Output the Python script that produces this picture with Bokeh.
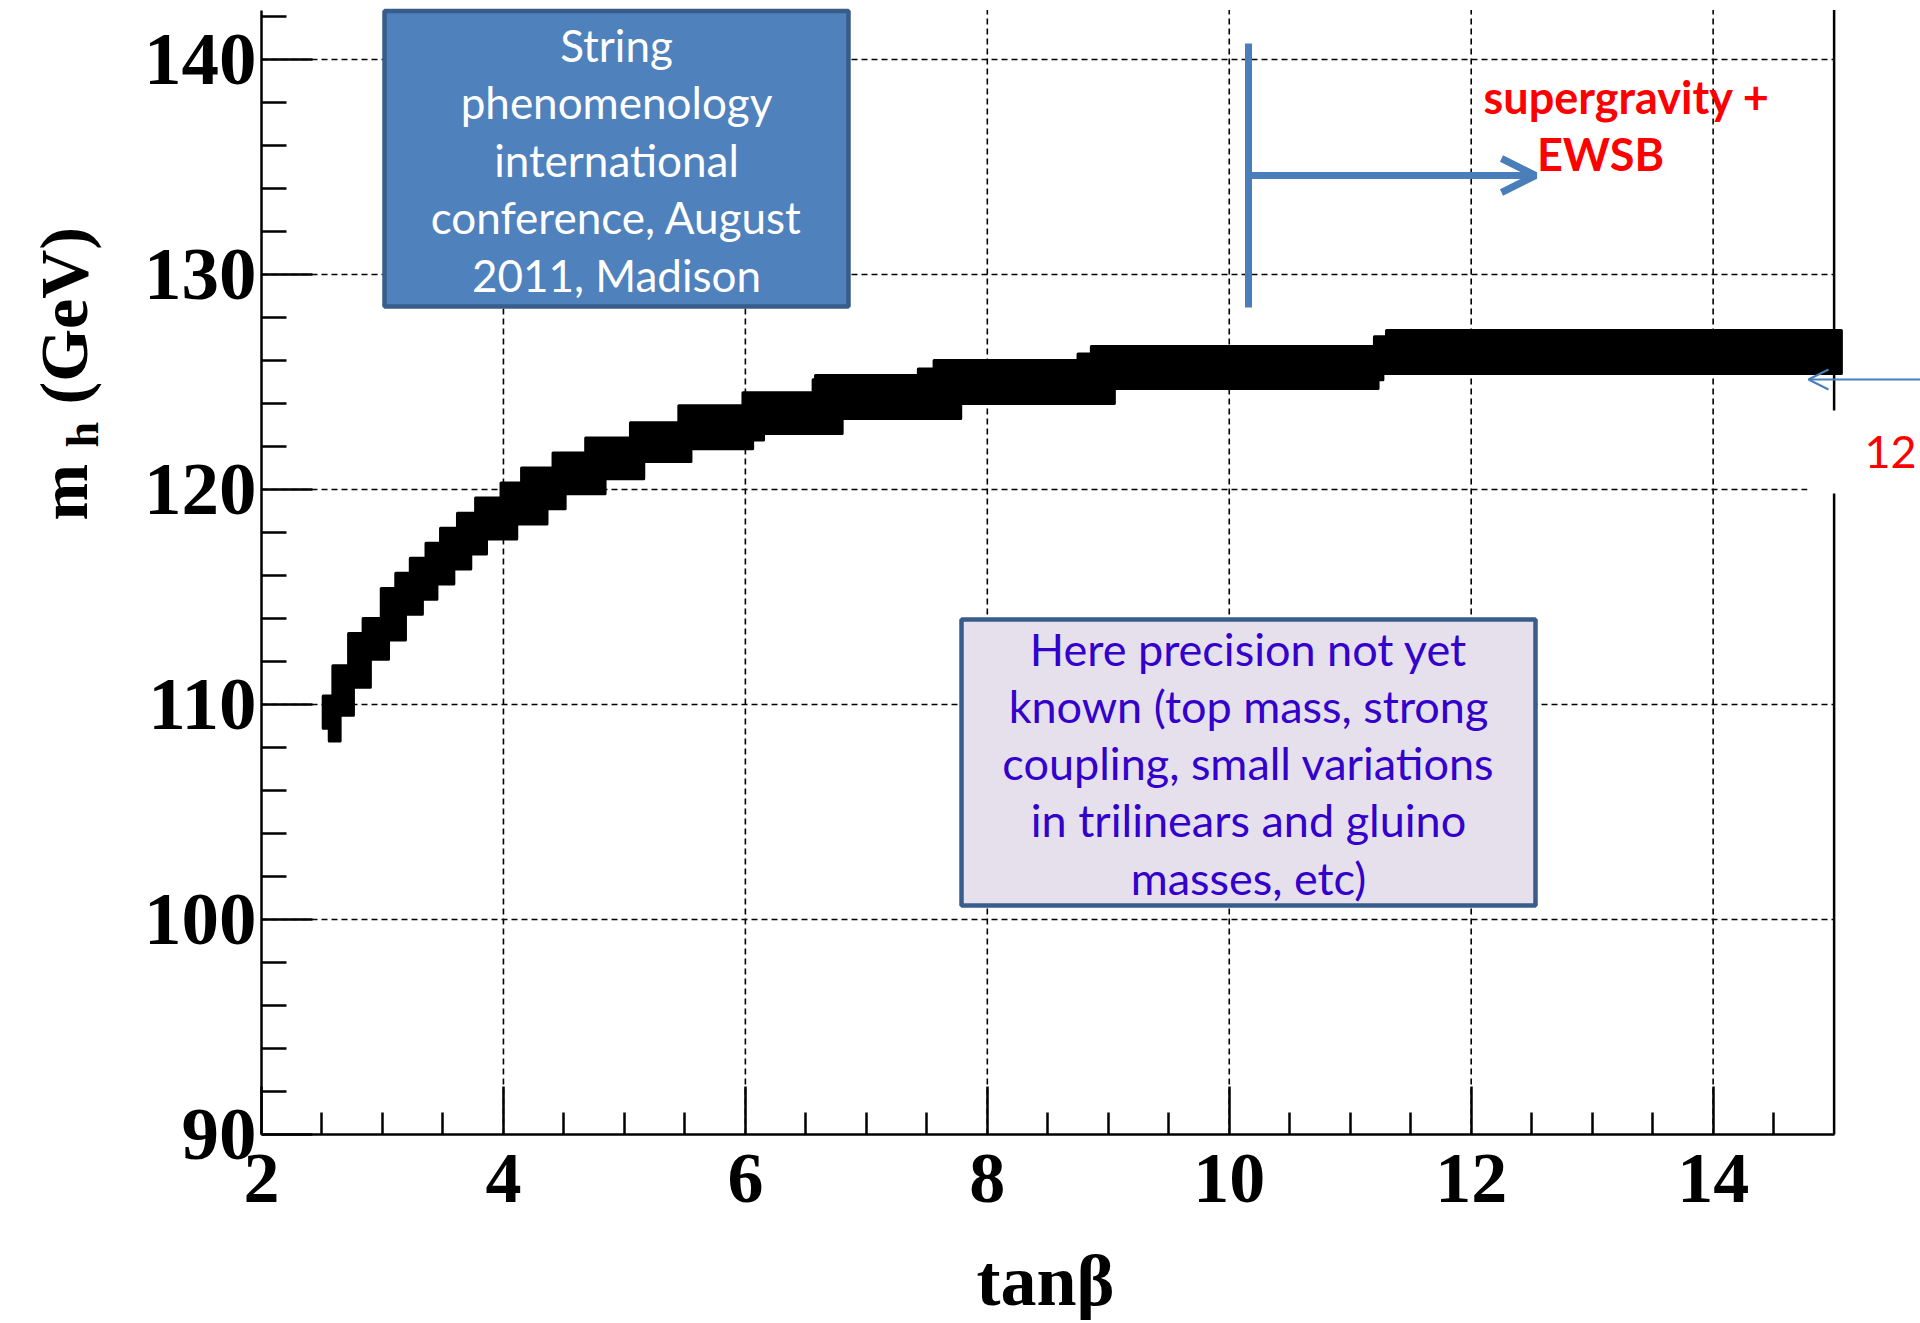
import math
from bokeh.plotting import figure
from bokeh.models import Range1d, FixedTicker, Label, Arrow, OpenHead, BoxAnnotation
from bokeh.embed import file_html
from bokeh.resources import INLINE

# ---------------- data ----------------
# upper edge of the scanned band: step start (tan beta) and level (m_h, GeV)
upper_tanb = [2.51, 2.59, 2.72, 2.84, 2.99, 3.11, 3.23, 3.36, 3.48, 3.62, 3.77, 3.98,
              4.15, 4.41, 4.68, 5.05, 5.45, 5.98, 6.56, 6.58, 7.43, 7.56, 8.75, 8.86,
              11.20, 11.30]
upper_mh = [110.4, 111.8, 113.3, 114.0, 115.4, 116.1, 116.8, 117.5, 118.2, 118.9, 119.6, 120.3,
            121.0, 121.7, 122.4, 123.1, 123.9, 124.5, 125.1, 125.3, 125.6, 126.0, 126.3, 126.65,
            127.1, 127.4]
# lower edge of the band
lower_tanb = [2.51, 2.56, 2.65, 2.76, 2.90, 3.05, 3.19, 3.33, 3.45, 3.59, 3.73, 3.86,
              4.11, 4.36, 4.51, 4.84, 5.16, 5.55, 6.06, 6.15, 6.80, 7.78, 9.05, 11.23, 11.27]
lower_mh = [108.9, 108.3, 109.5, 110.8, 112.1, 113.0, 114.2, 114.9, 115.6, 116.3, 117.0, 117.7,
            118.4, 119.1, 119.8, 120.5, 121.3, 121.9, 122.3, 122.6, 123.3, 124.0, 124.7, 125.1, 125.4]
band_end_tanb = 15.06

x_major = [2, 4, 6, 8, 10, 12, 14]
x_minor = [2.5, 3, 3.5, 4.5, 5, 5.5, 6.5, 7, 7.5, 8.5, 9, 9.5, 10.5, 11, 11.5, 12.5, 13, 13.5, 14.5]
y_major = [90, 100, 110, 120, 130, 140]
y_minor = [92, 94, 96, 98, 102, 104, 106, 108, 112, 114, 116, 118, 122, 124, 126, 128,
           132, 134, 136, 138, 142]

blue_box_lines = ["String", "phenomenology", "international", "conference, August", "2011, Madison"]
purple_box_lines = ["Here precision not yet", "known (top mass, strong",
                    "coupling, small variations", "in trilinears and gluino", "masses, etc)"]

# ---------------- geometry ----------------
W, H = 1920, 1323
X_MIN, X_MAX_AX = 2, 15
Y_MIN, Y_MAX_AX = 90, 142.3
PXX = 120.97   # px per tan beta unit
PXY = 21.5     # px per GeV
X0PX, Y0PX = 261, 1134   # canvas position of (2, 90)

def dx(px):  # canvas px -> data x
    return X_MIN + (px - X0PX) / PXX

def dy(py):  # canvas px -> data y
    return Y_MIN + (Y0PX - py) / PXY

p = figure(width=W, height=H, x_range=Range1d(dx(0), dx(W)), y_range=Range1d(dy(H), dy(0)),
           output_backend="svg", toolbar_location=None, title=None,
           min_border=0, min_border_left=0, min_border_right=0, min_border_top=0, min_border_bottom=0)
p.outline_line_color = None
p.background_fill_color = "white"
p.border_fill_color = "white"
p.xgrid.visible = False
p.ygrid.visible = False

# axes (drawn at the corner of the original frame)
SERIF = "Liberation Serif"
for ax in (p.xaxis[0], p.yaxis[0]):
    ax.axis_line_width = 2.5
    ax.axis_line_color = "black"
    ax.major_tick_line_width = 2.5
    ax.minor_tick_line_width = 2.5
    ax.major_tick_out = 0
    ax.minor_tick_out = 0
    ax.major_label_text_font = SERIF
    ax.major_label_text_font_style = "bold"
    ax.major_label_text_font_size = "72px"
    ax.major_label_text_color = "black"

p.xaxis.fixed_location = Y_MIN
p.xaxis.bounds = (X_MIN, X_MAX_AX)
p.xaxis.ticker = FixedTicker(ticks=x_major, minor_ticks=x_minor)
p.xaxis.major_tick_in = 48
p.xaxis.minor_tick_in = 22
p.xaxis.major_label_standoff = 20

p.yaxis.fixed_location = X_MIN
p.yaxis.bounds = (Y_MIN, Y_MAX_AX)
p.yaxis.ticker = FixedTicker(ticks=y_major, minor_ticks=y_minor)
p.yaxis.major_tick_in = 51
p.yaxis.minor_tick_in = 25
p.yaxis.major_label_standoff = 5
p.yaxis.major_label_text_font_size = "75px"

# grid lines (bounded to the frame of the original plot)
gx = [t for t in x_major if t > X_MIN]
p.segment(x0=gx, y0=[Y_MIN] * len(gx), x1=gx, y1=[Y_MAX_AX] * len(gx),
          line_color="black", line_width=1.6, line_dash="6 4")
gy = [t for t in y_major if t > Y_MIN]
p.segment(x0=[X_MIN] * len(gy), y0=gy, x1=[X_MAX_AX] * len(gy), y1=gy,
          line_color="black", line_width=1.6, line_dash="6 4")
# right frame line
p.segment(x0=[X_MAX_AX], y0=[Y_MIN], x1=[X_MAX_AX], y1=[Y_MAX_AX], line_color="black", line_width=2.5)

# band as a polygon from the step edges
def steps(xs, ys, xend):
    px, py = [], []
    for i in range(len(xs)):
        xn = xs[i + 1] if i + 1 < len(xs) else xend
        px += [xs[i], xn]
        py += [ys[i], ys[i]]
    return px, py

ux, uy = steps(upper_tanb, upper_mh, band_end_tanb)
lx, ly = steps(lower_tanb, lower_mh, band_end_tanb)
p.patch(ux + lx[::-1], uy + ly[::-1], fill_color="black", line_color="black",
        line_width=3, line_join="round")

# ---------------- annotations ----------------
BLUE_LINE = "#4A7EBB"
BOX_EDGE = "#385D8A"
SANS = "Lato"

p.add_layout(BoxAnnotation(left=dx(384), right=dx(848), top=dy(10.5), bottom=dy(306),
                           fill_color="#4F81BD", fill_alpha=1, line_color=BOX_EDGE,
                           line_alpha=1, line_width=4.5))
p.add_layout(BoxAnnotation(left=dx(961), right=dx(1535), top=dy(619), bottom=dy(905),
                           fill_color="#E6E0EC", fill_alpha=1, line_color=BOX_EDGE,
                           line_alpha=1, line_width=4.5))
p.add_layout(BoxAnnotation(left=dx(1807), right=dx(1935), top=dy(410), bottom=dy(493),
                           fill_color="white", fill_alpha=1, line_color=None))

def lab(text, px, py, size, color, font=SANS, style="normal", align="left",
        baseline="middle", angle=0.0):
    p.add_layout(Label(x=dx(px), y=dy(py), text=text, text_font=font,
                       text_font_size=f"{size}px", text_font_style=style,
                       text_color=color, text_align=align, text_baseline=baseline,
                       angle=angle))

for i, t in enumerate(blue_box_lines):
    lab(t, 616, 44 + 57.5 * i, 44, "white", align="center")
for i, t in enumerate(purple_box_lines):
    lab(t, 1248, 648 + 57.3 * i, 45, "#3300CC", align="center")

# T-shaped arrow
p.add_layout(Arrow(end=None, x_start=dx(1248), y_start=dy(43), x_end=dx(1248), y_end=dy(307),
                   line_color=BLUE_LINE, line_width=7))
p.add_layout(Arrow(end=OpenHead(size=34, line_color=BLUE_LINE, line_width=7),
                   x_start=dx(1248), y_start=dy(175), x_end=dx(1535), y_end=dy(175),
                   line_color=BLUE_LINE, line_width=7))
lab("supergravity +", 1483, 96, 45, "#FF0000", style="bold")
lab("EWSB", 1600, 153, 45, "#FF0000", style="bold", align="center")

# small arrow from the right
p.add_layout(Arrow(end=OpenHead(size=20, line_color=BLUE_LINE, line_width=2),
                   x_start=dx(1935), y_start=dy(379), x_end=dx(1808), y_end=dy(379),
                   line_color=BLUE_LINE, line_width=2))
lab("12", 1864, 451, 45, "#FF0000")

# axis titles
lab("tan\u03b2", 1045, 1280, 72, "black", font=SERIF, style="bold", align="center")
lab("m", 63, 520, 68, "black", font=SERIF, style="bold", angle=math.pi / 2)
lab("h", 82, 447, 46, "black", font=SERIF, style="bold", angle=math.pi / 2)
lab("(GeV)", 63, 404, 68, "black", font=SERIF, style="bold", angle=math.pi / 2)

open("out.html", "w").write(file_html(p, INLINE))
